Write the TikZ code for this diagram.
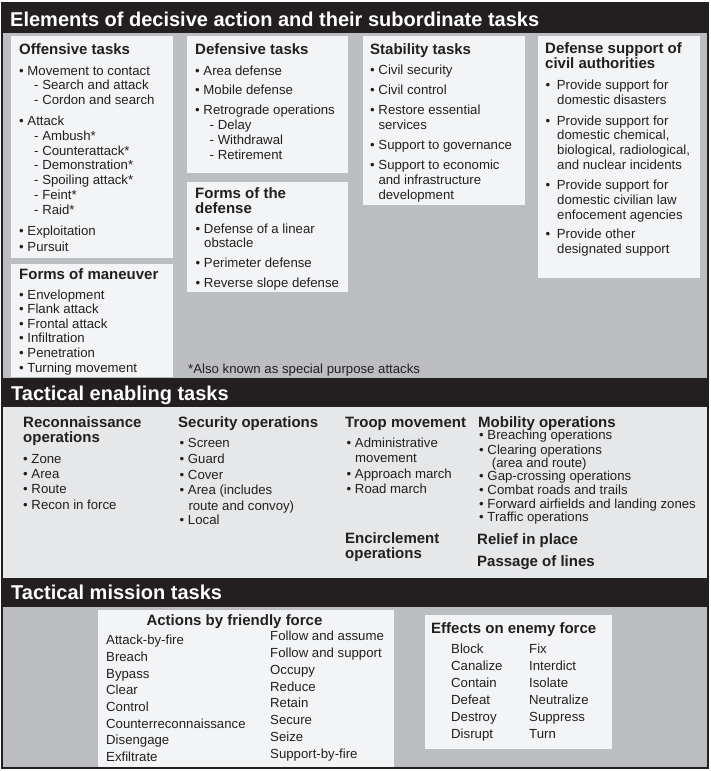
\documentclass[tikz,border=0pt]{standalone}
\usepackage{fontspec}
\setmainfont{Liberation Sans}
\usepackage{xcolor}
\definecolor{barblack}{RGB}{35, 31, 32}
\definecolor{panelgray}{RGB}{188, 189, 193}
\definecolor{boxwhite}{RGB}{243, 244, 246}
\definecolor{enablegray}{RGB}{230, 231, 232}
\newcommand{\bodyfont}{\fontsize{13.2}{15}\selectfont}
\newcommand{\headfont}{\fontsize{15}{17}\selectfont\bfseries}
\newcommand{\barfont}{\fontsize{20}{24}\selectfont\bfseries}
\tikzset{
  item/.style={font=\bodyfont, text=barblack, anchor=base west, inner sep=0pt},
  head/.style={font=\headfont, text=barblack, anchor=base west, inner sep=0pt},
  bartitle/.style={font=\barfont, text=white, anchor=base west, inner sep=0pt},
  taskbox/.style={fill=boxwhite}
}

\begin{document}
\begin{tikzpicture}[x=1pt, y=-1pt]
        \useasboundingbox (0,0) rectangle (711,771);
        \fill[white] (0,0) rectangle (711,771);

        % section backgrounds and title bars
        \fill[panelgray] (2,33) rectangle (708,378);
        \fill[enablegray] (2,407) rectangle (708,578);
        \fill[panelgray] (2,607) rectangle (708,768);
        \fill[barblack] (2,3) rectangle (708,33);
        \fill[barblack] (2,378) rectangle (708,407);
        \fill[barblack] (2,578) rectangle (708,607);
        \draw[barblack, line width=2.5pt] (2,3) rectangle (708,768);
        \node[bartitle] (elements) at (10,26)
          {Elements of decisive action and their subordinate tasks};
        \node[bartitle] (enabling) at (11,400.5) {Tactical enabling tasks};
        \node[bartitle] (mission) at (11,599.5) {Tactical mission tasks};

        % light boxes of the first section
        \fill[taskbox] (11,36) rectangle (173,258);
        \fill[taskbox] (11,264) rectangle (173,377);
        \fill[taskbox] (187,36) rectangle (348,173);
        \fill[taskbox] (187,182) rectangle (348,292);
        \fill[taskbox] (363,36) rectangle (525,205);
        \fill[taskbox] (538,36) rectangle (700,278);

        % Offensive tasks
        \node[head] (offhead) at (19,54.2) {Offensive tasks};
        \foreach \x/\y/\t [count=\i] in {19/75.4/{• Movement to contact},
            34/89.9/{- Search and attack}, 34/104.6/{- Cordon and search},
            19/125.3/{• Attack}, 34/140.4/{- Ambush*}, 34/155.1/{- Counterattack*},
            34/169.8/{- Demonstration*}, 34/184.5/{- Spoiling attack*},
            34/199.6/{- Feint*}, 34/214.7/{- Raid*},
            19/235.3/{• Exploitation}, 19/251.3/{• Pursuit}}
          \node[item] (off\i) at (\x,\y) {\t};

        % Forms of maneuver
        \node[head] (manhead) at (19,279) {Forms of maneuver};
        \foreach \y/\t [count=\i] in {299.6/Envelopment, 313.6/Flank attack,
            328/Frontal attack, 342.8/Infiltration, 357.6/Penetration,
            372.6/Turning movement}
          \node[item] (man\i) at (19,\y) {• \t};

        % Defensive tasks
        \node[head] (defhead) at (195,54.2) {Defensive tasks};
        \foreach \x/\y/\t [count=\i] in {195/75.3/{• Area defense},
            195/94.7/{• Mobile defense}, 195/114.7/{• Retrograde operations},
            209.5/129.7/{- Delay}, 209.5/144.5/{- Withdrawal},
            209.5/159.5/{- Retirement}}
          \node[item] (def\i) at (\x,\y) {\t};

        % Forms of the defense
        \node[head] (formhead) at (195,198.3) {Forms of the};
        \node[head] (formhead2) at (195,213.3) {defense};
        \foreach \x/\y/\t [count=\i] in {195.5/233.7/{• Defense of a linear},
            204/247.7/{obstacle}, 195.5/267.7/{• Perimeter defense},
            195.5/287.7/{• Reverse slope defense}}
          \node[item] (form\i) at (\x,\y) {\t};

        % Stability tasks
        \node[head] (stabhead) at (370,54.2) {Stability tasks};
        \foreach \x/\y/\t [count=\i] in {370/74.7/{• Civil security},
            370/94.7/{• Civil control}, 370/114.7/{• Restore essential},
            378.3/129.7/{services}, 370/149.7/{• Support to governance},
            370/169.7/{• Support to economic}, 378.3/184.7/{and infrastructure},
            378.3/199.5/{development}}
          \node[item] (stab\i) at (\x,\y) {\t};

        % Defense support of civil authorities
        \node[head] (dscahead) at (545,53.2) {Defense support of};
        \node[head] (dscahead2) at (545,68.7) {civil authorities};
        \foreach \x/\y/\t [count=\i] in {545.5/89.7/{•\enspace Provide support for},
            557/104.7/{domestic disasters}, 545.5/125.4/{•\enspace Provide support for},
            557/139.9/{domestic chemical,}, 557/154.7/{biological, radiological,},
            557/169.7/{and nuclear incidents}, 545.5/189.2/{•\enspace Provide support for},
            557/204/{domestic civilian law}, 557/219/{enfocement agencies},
            545.5/238.7/{•\enspace Provide other}, 557/253.7/{designated support}}
          \node[item] (dsca\i) at (\x,\y) {\t};

        \node[item] (note) at (188,373.7) {*Also known as special purpose attacks};

        % Tactical enabling tasks
        \node[head] (reconhead) at (23,427) {Reconnaissance};
        \node[head] (reconhead2) at (23,442) {operations};
        \foreach \y/\t [count=\i] in {463/Zone, 478/Area, 493.7/Route,
            509.7/Recon in force}
          \node[item] (recon\i) at (23,\y) {• \t};

        \node[head] (sechead) at (178,427) {Security operations};
        \foreach \x/\y/\t [count=\i] in {179.5/447.4/{• Screen},
            179.5/463/{• Guard}, 179.5/479/{• Cover},
            179.5/494.7/{• Area (includes}, 188.3/510.4/{route and convoy)},
            179.5/524.7/{• Local}}
          \node[item] (sec\i) at (\x,\y) {\t};

        \node[head] (troophead) at (345,427) {Troop movement};
        \foreach \x/\y/\t [count=\i] in {346.5/447.4/{• Administrative},
            355/462.7/{movement}, 346.5/478.4/{• Approach march},
            346.5/493.7/{• Road march}}
          \node[item] (troop\i) at (\x,\y) {\t};

        \node[head] (mobhead) at (478,427) {Mobility operations};
        \foreach \x/\y/\t [count=\i] in {479/439.7/{• Breaching operations},
            479/454.4/{• Clearing operations}, 491.7/467/{(area and route)},
            479/480.7/{• Gap-crossing operations}, 479/494/{• Combat roads and trails},
            479/508/{• Forward airfields and landing zones},
            479/521.4/{• Traffic operations}}
          \node[item] (mob\i) at (\x,\y) {\t};

        \node[head] (encirc) at (345,543.2) {Encirclement};
        \node[head] (encirc2) at (345,558.8) {operations};
        \node[head] (relief) at (477,544.2) {Relief in place};
        \node[head] (passage) at (477,566.2) {Passage of lines};

        % Tactical mission tasks
        \fill[taskbox] (98,610) rectangle (394,767);
        \fill[taskbox] (425,615) rectangle (612,749);
        \node[head, anchor=base] (acthead) at (234.5,625) {Actions by friendly force};
        \foreach \t [count=\i from 0] in {Attack-by-fire, Breach, Bypass, Clear,
            Control, Counterreconnaissance, Disengage, Exfiltrate}
          \node[item] (actl\i) at (106,644.7+16.7*\i) {\t};
        \foreach \t [count=\i from 0] in {Follow and assume, Follow and support,
            Occupy, Reduce, Retain, Secure, Seize, Support-by-fire}
          \node[item] (actr\i) at (270,640.7+16.8*\i) {\t};

        \node[head] (effhead) at (431,633) {Effects on enemy force};
        \foreach \t [count=\i from 0] in {Block, Canalize, Contain, Defeat,
            Destroy, Disrupt}
          \node[item] (effl\i) at (451,653.7+16.9*\i) {\t};
        \foreach \t [count=\i from 0] in {Fix, Interdict, Isolate, Neutralize,
            Suppress, Turn}
          \node[item] (effr\i) at (529,653.7+16.9*\i) {\t};
      \end{tikzpicture}
\end{document}
